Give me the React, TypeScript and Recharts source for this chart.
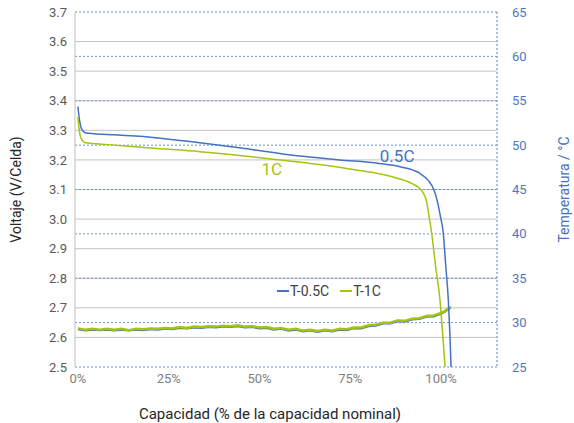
import {
  ComposedChart,
  Legend,
  Line,
  ReferenceDot,
  ReferenceLine,
  XAxis,
  YAxis,
} from "recharts";

// Discharge curves: capacity (% nominal) vs voltage (V/cell)
const cap05C = [0, 0.5, 1, 2, 3, 5, 10, 20, 33.6, 45, 61, 72, 83, 88.7, 94, 96.5, 98, 98.9, 99.8, 100.6, 101.3, 102, 102.4, 102.75];
const volt05C = [3.38, 3.33, 3.305, 3.292, 3.29, 3.288, 3.285, 3.277, 3.258, 3.24, 3.213, 3.2, 3.188, 3.177, 3.156, 3.13, 3.1, 3.064, 3.01, 2.953, 2.84, 2.726, 2.62, 2.5];

const cap1C = [0, 0.5, 1, 1.5, 2, 5, 10, 20, 33.6, 52, 74, 88, 92, 94, 95, 96, 96.8, 97.4, 98.5, 99.7, 100.5, 101.1];
const volt1C = [3.345, 3.29, 3.27, 3.262, 3.258, 3.255, 3.25, 3.24, 3.228, 3.205, 3.171, 3.138, 3.12, 3.105, 3.09, 3.06, 3.0, 2.953, 2.84, 2.726, 2.6, 2.5];

// Cell temperature (°C) during discharge
const capTemp = [0, 2, 4, 6, 8, 10, 12, 14, 16, 18, 20, 22, 24, 26, 28, 30, 32, 34, 36, 38, 40, 42, 44, 46, 48, 50, 52, 54, 56, 58, 60, 62, 64, 66, 68, 70, 72, 74, 76, 78, 80, 82, 84, 86, 88, 90, 92, 94, 96, 98, 99, 100, 101, 102, 102.7];
const temp05C = [29.25, 29.1, 29.2, 29.15, 29.2, 29.1, 29.2, 29.1, 29.2, 29.15, 29.25, 29.2, 29.3, 29.25, 29.4, 29.35, 29.45, 29.4, 29.5, 29.45, 29.55, 29.5, 29.6, 29.45, 29.5, 29.35, 29.4, 29.2, 29.3, 29.1, 29.2, 29.0, 29.1, 28.95, 29.1, 29.0, 29.2, 29.15, 29.35, 29.35, 29.6, 29.65, 29.9, 29.9, 30.15, 30.1, 30.35, 30.4, 30.65, 30.7, 30.85, 31.0, 31.2, 31.5, 31.7];
const temp1C = [29.35, 29.2, 29.3, 29.2, 29.3, 29.2, 29.3, 29.15, 29.3, 29.25, 29.35, 29.3, 29.4, 29.35, 29.5, 29.4, 29.55, 29.5, 29.6, 29.55, 29.65, 29.6, 29.7, 29.55, 29.6, 29.45, 29.5, 29.3, 29.4, 29.2, 29.3, 29.1, 29.2, 29.05, 29.2, 29.1, 29.3, 29.25, 29.45, 29.45, 29.7, 29.75, 30.0, 30.0, 30.25, 30.2, 30.45, 30.5, 30.75, 30.8, 30.95, 31.1, 31.3, 31.6, 31.8];

const voltTicks = [2.5, 2.6, 2.7, 2.8, 2.9, 3.0, 3.1, 3.2, 3.3, 3.4, 3.5, 3.6, 3.7];
const tempTicks = [25, 30, 35, 40, 45, 50, 55, 60, 65];
const capTicks = [0, 25, 50, 75, 100];

const BLUE = "#4472c4";
const GREEN = "#a5c40f";

const toRows = (xs: number[], ys: number[], key: string) =>
  xs.map((x, i) => ({ x, [key]: ys[i] }));

const legendContent = (props: any) => {
  const items = (props.payload || []).filter((p: any) => p.type !== "none");
  return (
    <div style={{ display: "flex", gap: 11, fontSize: 14, color: "#404040" }}>
      {items.map((p: any) => (
        <span key={p.value} style={{ display: "flex", alignItems: "center" }}>
          <span style={{ width: 12, height: 2, background: p.color, marginRight: 1 }} />
          {p.value}
        </span>
      ))}
    </div>
  );
};

export default function App() {
  return (
    <div style={{ position: "absolute", left: 0, top: 0, fontFamily: "Roboto, sans-serif", background: "#fff" }}>
      <ComposedChart width={574} height={423} margin={{ top: 12, right: 0, left: 0, bottom: 0 }}>
        <XAxis
          type="number"
          dataKey="x"
          domain={[-0.8, 115.4]}
          ticks={capTicks}
          tickFormatter={(v) => `${v}%`}
          axisLine={false}
          tickLine={false}
          tickMargin={1}
          height={56}
          tick={{ fontSize: 13, fill: "#808080" }}
          label={{
            value: "Capacidad (% de la capacidad nominal)",
            position: "insideBottom",
            offset: 4,
            dx: -16,
            style: { fontSize: 15, fill: "#262626" },
          }}
        />
        <YAxis
          yAxisId="v"
          domain={[2.5, 3.7]}
          ticks={voltTicks}
          tickFormatter={(v) => v.toFixed(1)}
          width={75}
          axisLine={{ stroke: "#bfbfbf" }}
          tickLine={false}
          tick={{ fontSize: 13, fill: "#595959" }}
          label={{
            value: "Voltaje (V/Celda)",
            angle: -90,
            position: "insideLeft",
            offset: 16,
            style: { fontSize: 14, fill: "#262626", textAnchor: "middle" },
          }}
        />
        <YAxis
          yAxisId="t"
          orientation="right"
          domain={[25, 65]}
          ticks={tempTicks}
          width={77}
          axisLine={{ stroke: "#5b82c8", strokeDasharray: "2 2" }}
          tickLine={false}
          tickMargin={9}
          tick={{ fontSize: 13, fill: "#5078c0", textAnchor: "start" }}
          label={{
            value: "Temperatura / °C",
            angle: -90,
            position: "insideRight",
            offset: 10,
            style: { fontSize: 14, fill: "#4a70b8", textAnchor: "middle" },
          }}
        />

        {voltTicks.slice(1, -1).map((v) => (
          <ReferenceLine key={`v${v}`} yAxisId="v" y={v} stroke="#c4c4c4" strokeWidth={1} />
        ))}
        {tempTicks.map((t) => (
          <ReferenceLine key={`t${t}`} yAxisId="t" y={t} stroke="#6f92d0" strokeDasharray="2 2" strokeWidth={1} />
        ))}

        <Legend
          layout="horizontal"
          verticalAlign="middle"
          align="center"
          content={legendContent}
          wrapperStyle={{ position: "absolute", left: 277, top: 283, width: "auto" }}
        />

        <Line
          yAxisId="t"
          data={toRows(capTemp, temp05C, "t")}
          dataKey="t"
          name="T-0.5C"
          type="linear"
          stroke={BLUE}
          strokeWidth={2}
          dot={false}
          isAnimationActive={false}
        />
        <Line
          yAxisId="t"
          data={toRows(capTemp, temp1C, "t")}
          dataKey="t"
          name="T-1C"
          type="linear"
          stroke={GREEN}
          strokeWidth={2.5}
          dot={false}
          isAnimationActive={false}
        />
        <Line
          yAxisId="v"
          data={toRows(cap05C, volt05C, "v")}
          dataKey="v"
          name="0.5C"
          legendType="none"
          type="monotone"
          stroke={BLUE}
          strokeWidth={1.5}
          dot={false}
          isAnimationActive={false}
        />
        <Line
          yAxisId="v"
          data={toRows(cap1C, volt1C, "v")}
          dataKey="v"
          name="1C"
          legendType="none"
          type="monotone"
          stroke={GREEN}
          strokeWidth={1.5}
          dot={false}
          isAnimationActive={false}
        />

        <ReferenceDot
          yAxisId="v"
          x={87.9}
          y={3.213}
          r={0}
          fill="none"
          stroke="none"
          label={{ value: "0.5C", position: "center", style: { fontSize: 17, fill: BLUE } }}
        />
        <ReferenceDot
          yAxisId="v"
          x={53.4}
          y={3.169}
          r={0}
          fill="none"
          stroke="none"
          label={{ value: "1C", position: "center", style: { fontSize: 17, fill: GREEN } }}
        />
      </ComposedChart>
    </div>
  );
}
